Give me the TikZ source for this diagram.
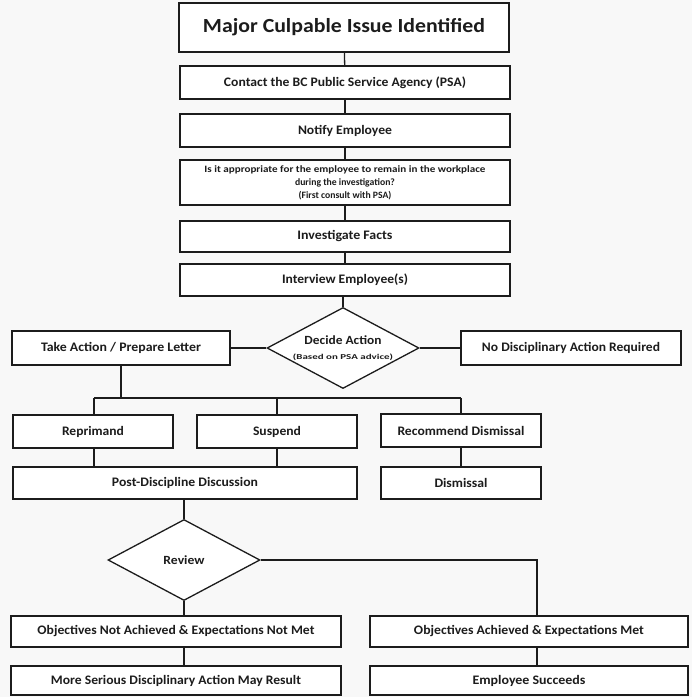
\documentclass[tikz,border=0pt]{standalone}
\usepackage{fontspec}
\setmainfont{Carlito}
\usepackage{graphicx}
\usetikzlibrary{shapes.geometric}
% squeeze or stretch a label horizontally to a given width (in pt)
\newcommand{\fitw}[2]{\resizebox{#1pt}{\height}{#2}}
\definecolor{bgcol}{HTML}{F8F8F8}
\definecolor{ink}{HTML}{1C1C1C}

\begin{document}
\begin{tikzpicture}[x=1pt,y=-1pt,
  box/.style={draw=ink, line width=1.3pt, fill=white, rectangle, inner sep=0pt,
    font=\bfseries\fontsize{13}{15}\selectfont, text=ink},
  dia/.style={draw=ink, line width=1.3pt, fill=white, diamond, shape aspect=1.88,
    inner sep=0pt, minimum width=152pt, minimum height=81pt,
    font=\bfseries, text=ink, align=center},
  link/.style={draw=ink, line width=1.3pt}]

% canvas
\fill[bgcol] (0,0) rectangle (692,697);
\useasboundingbox (0,0) rectangle (692,697);

% main column
\node[box, minimum width=330pt, minimum height=49pt, font=\bfseries\fontsize{20}{24}\selectfont]
  (title) at (344,27.5) {\fitw{282}{Major Culpable Issue Identified}};
\node[box, minimum width=330pt, minimum height=33pt] (contact) at (345,82.5)
  {\fitw{242}{Contact the BC Public Service Agency (PSA)}};
\node[box, minimum width=330pt, minimum height=33pt] (notify) at (345,130.5)
  {\fitw{94}{Notify Employee}};
\node[box, minimum width=330pt, minimum height=45pt, align=center,
  font=\bfseries\fontsize{9.7}{13}\selectfont] (remain) at (345,182.5)
  {\fitw{281}{Is it appropriate for the employee to remain in the workplace}\\
   during the investigation?\\(First consult with PSA)};
\node[box, minimum width=330pt, minimum height=31pt] (facts) at (345,236.5)
  {\fitw{95}{Investigate Facts}};
\node[box, minimum width=330pt, minimum height=32pt] (interview) at (345,280)
  {\fitw{126}{Interview Employee(s)}};

% decision
\node[dia] (decide) at (343,348)
  {{\fontsize{12.5}{14}\selectfont\fitw{77}{Decide Action}}\\[3pt]
   {\fontsize{7.5}{9}\selectfont\fitw{100}{(Based on PSA advice)}}};
\node[box, minimum width=218pt, minimum height=34pt] (act) at (121,348)
  {\fitw{160}{Take Action / Prepare Letter}};
\node[box, minimum width=220pt, minimum height=34pt] (none) at (571,348)
  {\fitw{178}{No Disciplinary Action Required}};

% outcomes
\node[box, minimum width=160pt, minimum height=33pt] (reprimand) at (93,431.5)
  {\fitw{62}{Reprimand}};
\node[box, minimum width=160pt, minimum height=33pt] (suspend) at (277,431.5)
  {\fitw{48}{Suspend}};
\node[box, minimum width=160pt, minimum height=33pt] (recommend) at (461,430.5)
  {\fitw{127}{Recommend Dismissal}};
\node[box, minimum width=344pt, minimum height=32pt] (post) at (185,483)
  {\fitw{146}{Post-Discipline Discussion}};
\node[box, minimum width=160pt, minimum height=32pt] (dismissal) at (461,483)
  {\fitw{53}{Dismissal}};

% review
\node[dia] (review) at (184,560) {\fontsize{12.5}{14}\selectfont\fitw{41}{Review}};
\node[box, minimum width=330pt, minimum height=31pt] (notmet) at (176,631.5)
  {\fitw{277}{Objectives Not Achieved \& Expectations Not Met}};
\node[box, minimum width=330pt, minimum height=29pt] (serious) at (176,680.5)
  {\fitw{250}{More Serious Disciplinary Action May Result}};
\node[box, minimum width=318pt, minimum height=31pt] (met) at (529,631.5)
  {\fitw{230}{Objectives Achieved \& Expectations Met}};
\node[box, minimum width=318pt, minimum height=29pt] (succeeds) at (529,680.5)
  {\fitw{113}{Employee Succeeds}};

% branch points
\coordinate (bl) at (94,398);
\coordinate (br) at (461,398);
\coordinate (turn) at (537,560);

% connectors
\path[link] (title) -- (contact);
\path[link] (contact) -- (notify);
\path[link] (notify) -- (remain);
\path[link] (remain) -- (facts);
\path[link] (facts) -- (interview);
\path[link] (interview.south -| decide.north) -- (decide.north);
\path[link] (act.east) -- (decide.west);
\path[link] (decide.east) -- (none.west);
\path[link] (act.south) -- (act.south |- bl);
\path[link] (bl) -- (br);
\path[link] (bl) -- (bl |- reprimand.north);
\path[link] (suspend.north) -- (suspend.north |- bl);
\path[link] (br) -- (recommend.north);
\path[link] (bl |- reprimand.south) -- (bl |- post.north);
\path[link] (suspend.south) -- (suspend.south |- post.north);
\path[link] (recommend) -- (dismissal);
\path[link] (post.south -| review.north) -- (review.north);
\path[link] (review.south) -- (review.south |- notmet.north);
\path[link] (review.south |- notmet.south) -- (review.south |- serious.north);
\path[link] (review.east) -- (turn) -- (turn |- met.north);
\path[link] (turn |- met.south) -- (turn |- succeeds.north);
\end{tikzpicture}
\end{document}
